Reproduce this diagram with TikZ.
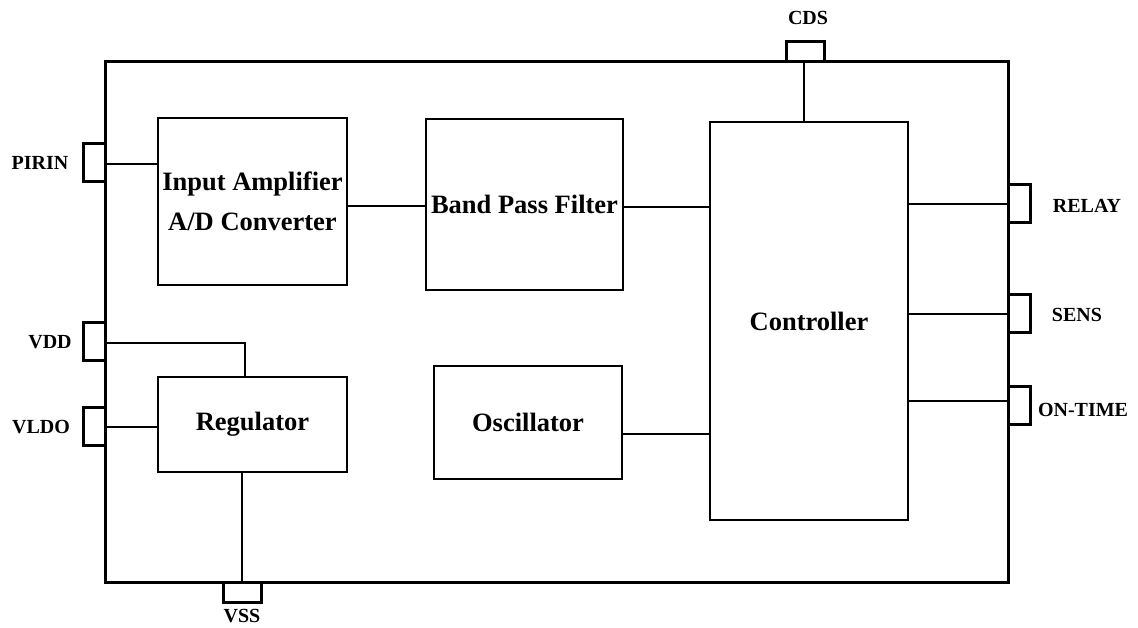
\documentclass[tikz,border=0pt]{standalone}
\usepackage{fontspec}
\setmainfont{Liberation Serif}
\begin{document}
\begin{tikzpicture}[x=1pt,y=-1pt,
  chip/.style={draw, line width=3pt, inner sep=0pt},
  blk/.style={draw, line width=1.8pt, inner sep=0pt, align=center,
    font=\fontsize{26.5}{40}\selectfont\bfseries},
  pin/.style={draw, line width=3pt, inner sep=0pt},
  vpin/.style={pin, minimum width=22pt, minimum height=38pt},
  hpin/.style={pin, minimum width=38pt, minimum height=20pt},
  lbl/.style={inner sep=0pt, font=\fontsize{20}{24}\selectfont\bfseries},
  wire/.style={line width=1.6pt}]
\useasboundingbox (0,0) rectangle (1138,628);
% chip outline
\node[chip, minimum width=903pt, minimum height=520pt] (chip) at (556.5,322) {};
% blocks
\node[blk, minimum width=189pt, minimum height=167pt] (ia) at (252.5,201.5) {Input Amplifier\\A/D Converter};
\node[blk, minimum width=197pt, minimum height=171pt] (bpf) at (524.5,204.5) {Band Pass Filter};
\node[blk, minimum width=198pt, minimum height=398pt] (ctrl) at (809,321) {Controller};
\node[blk, minimum width=188pt, minimum height=113pt] (osc) at (528,422.5) {Oscillator};
\node[blk, minimum width=189pt, minimum height=95pt] (reg) at (252.5,424.5) {Regulator};
% pins
\node[vpin] (pirin) at (94,162.5) {};
\node[vpin] (vdd) at (94,341.5) {};
\node[vpin] (vldo) at (94,426.5) {};
\node[hpin] (cds) at (805,52) {};
\node[hpin] (vss) at (242,592) {};
\node[vpin] (relay) at (1019.5,204) {};
\node[vpin] (sens) at (1019.5,314) {};
\node[vpin] (ontime) at (1019.5,405) {};
% pin labels
\node[lbl] (lpirin) at (40,163) {PIRIN};
\node[lbl] (lvdd) at (50,342) {VDD};
\node[lbl] (lvldo) at (41,427) {VLDO};
\node[lbl] (lcds) at (808,18) {CDS};
\node[lbl] (lvss) at (242,616) {VSS};
\node[lbl] (lrelay) at (1087,206) {RELAY};
\node[lbl] (lsens) at (1077,315) {SENS};
\node[lbl] (lontime) at (1083,410) {ON-TIME};
% connectors
\draw[wire] ([yshift=-1.5pt]pirin.east) -- ([yshift=-1.5pt]pirin.east -| ia.west);
\draw[wire] ([yshift=-4.5pt]ia.east) -- ([yshift=-4.5pt]ia.east -| bpf.west);
\draw[wire] ([yshift=-2.5pt]bpf.east) -- ([yshift=-2.5pt]bpf.east -| ctrl.west);
\draw[wire] ([xshift=-1pt]cds.south) -- ([xshift=-1pt]cds.south |- ctrl.north);
\draw[wire] (relay.west -| ctrl.east) -- (relay.west);
\draw[wire] (sens.west -| ctrl.east) -- (sens.west);
\draw[wire] ([yshift=4pt]ontime.west -| ctrl.east) -- ([yshift=4pt]ontime.west);
\draw[wire] ([yshift=-11.5pt]osc.east) -- ([yshift=-11.5pt]osc.east -| ctrl.west);
\draw[wire] ([yshift=-1.5pt]vdd.east) -| ([xshift=-7.5pt]reg.north);
\draw[wire] ([yshift=-0.5pt]vldo.east) -- ([yshift=-0.5pt]vldo.east -| reg.west);
\draw[wire] ([xshift=-10.5pt]reg.south) -- ([xshift=-10.5pt]reg.south |- vss.north);
\end{tikzpicture}
\end{document}
